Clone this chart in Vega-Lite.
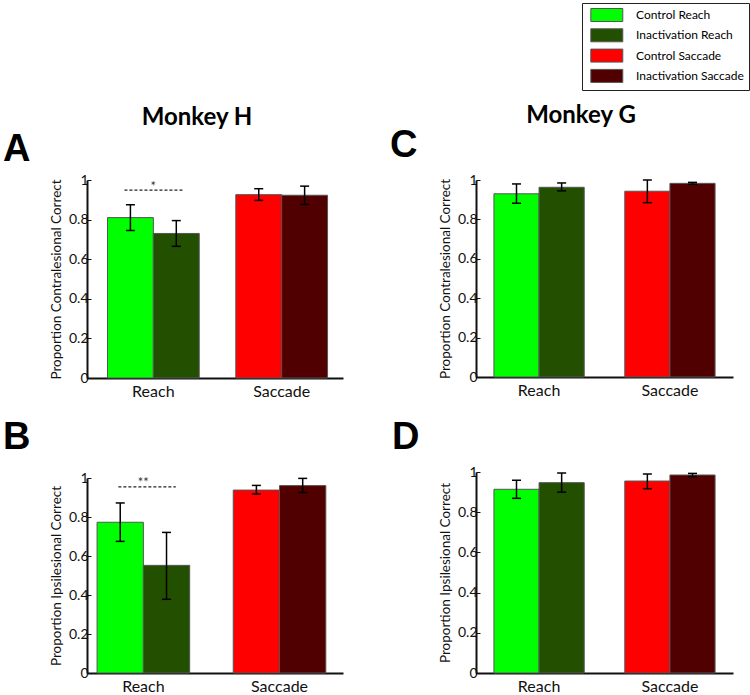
{
  "$schema": "https://vega.github.io/schema/vega-lite/v6.json",
  "padding": {"left": 3, "top": 2, "right": 0, "bottom": 0},
  "background": "white",
  "datasets": {
    "bars": [
      {"panel": "A", "group": "Reach", "treatment": "Control", "cond": "Control Reach", "value": 0.81, "lo": 0.745, "hi": 0.875},
      {"panel": "A", "group": "Reach", "treatment": "Inactivation", "cond": "Inactivation Reach", "value": 0.73, "lo": 0.665, "hi": 0.795},
      {"panel": "A", "group": "Saccade", "treatment": "Control", "cond": "Control Saccade", "value": 0.926, "lo": 0.897, "hi": 0.956},
      {"panel": "A", "group": "Saccade", "treatment": "Inactivation", "cond": "Inactivation Saccade", "value": 0.923, "lo": 0.877, "hi": 0.969},
      {"panel": "B", "group": "Reach", "treatment": "Control", "cond": "Control Reach", "value": 0.773, "lo": 0.675, "hi": 0.872},
      {"panel": "B", "group": "Reach", "treatment": "Inactivation", "cond": "Inactivation Reach", "value": 0.552, "lo": 0.378, "hi": 0.721},
      {"panel": "B", "group": "Saccade", "treatment": "Control", "cond": "Control Saccade", "value": 0.938, "lo": 0.918, "hi": 0.962},
      {"panel": "B", "group": "Saccade", "treatment": "Inactivation", "cond": "Inactivation Saccade", "value": 0.961, "lo": 0.926, "hi": 0.998},
      {"panel": "C", "group": "Reach", "treatment": "Control", "cond": "Control Reach", "value": 0.93, "lo": 0.882, "hi": 0.98},
      {"panel": "C", "group": "Reach", "treatment": "Inactivation", "cond": "Inactivation Reach", "value": 0.963, "lo": 0.945, "hi": 0.985},
      {"panel": "C", "group": "Saccade", "treatment": "Control", "cond": "Control Saccade", "value": 0.943, "lo": 0.885, "hi": 1.0},
      {"panel": "C", "group": "Saccade", "treatment": "Inactivation", "cond": "Inactivation Saccade", "value": 0.983, "lo": 0.978, "hi": 0.988},
      {"panel": "D", "group": "Reach", "treatment": "Control", "cond": "Control Reach", "value": 0.914, "lo": 0.869, "hi": 0.959},
      {"panel": "D", "group": "Reach", "treatment": "Inactivation", "cond": "Inactivation Reach", "value": 0.947, "lo": 0.9, "hi": 0.995},
      {"panel": "D", "group": "Saccade", "treatment": "Control", "cond": "Control Saccade", "value": 0.955, "lo": 0.917, "hi": 0.99},
      {"panel": "D", "group": "Saccade", "treatment": "Inactivation", "cond": "Inactivation Saccade", "value": 0.985, "lo": 0.977, "hi": 0.993}
    ],
    "sig": [
      {"panel": "A", "group": "Reach", "line": 0.949, "starY": 0.965, "star": "*"},
      {"panel": "B", "group": "Reach", "line": 0.954, "starY": 0.975, "star": "**"}
    ]
  },
  "config": {
    "font": "Lato",
    "view": {"stroke": null},
    "axisX": {"ticks": false, "labelAngle": 0, "labelFontSize": 16, "labelPadding": 5, "domainColor": "#111", "domainWidth": 2, "labelColor": "#111"},
    "axisY": {"grid": false, "labelOverlap": false, "domainColor": "#111", "domainWidth": 2, "tickColor": "#111", "tickSize": -4, "tickWidth": 1, "labelPadding": 3, "labelFontSize": 14, "labelColor": "#111", "titleFontSize": 13.5, "titleFontWeight": "normal", "titleColor": "#111", "titlePadding": 5},
    "legend": {"orient": "none", "legendX": 495, "legendY": -177, "padding": 5, "strokeColor": "#222", "fillColor": "white", "symbolType": "M-0.49,-1H4.43V1H-0.49Z", "symbolSize": 169, "symbolStrokeColor": "#555", "symbolStrokeWidth": 1, "symbolOpacity": 1, "labelFont": "Lato", "labelFontSize": 12, "labelOffset": 35, "rowPadding": 2.3, "labelColor": "black", "cornerRadius": 0}
  },
  "resolve": {"scale": {"xOffset": "independent"}},
  "spacing": 47,
  "hconcat": [
    {
      "title": {"text": "Monkey H", "font": "Lato", "fontSize": 24, "fontWeight": "bold", "anchor": "middle", "dx": 24, "offset": -18, "baseline": "alphabetic", "color": "black"},
      "spacing": 100,
      "bounds": "flush",
      "resolve": {"scale": {"xOffset": "independent"}},
      "vconcat": [
        {
          "width": 256, "height": 198,
          "title": {"text": "A", "anchor": "start", "frame": "group", "dx": -84, "offset": -26, "baseline": "alphabetic", "font": "Liberation Sans", "fontSize": 38, "fontWeight": "bold", "color": "black"},
          "layer": [
            {"data": {"name": "bars"}, "transform": [{"filter": "datum.panel === 'A'"}],
             "mark": {"type": "bar", "stroke": "#555", "strokeWidth": 1},
             "encoding": {
               "x": {"field": "group", "type": "nominal", "title": null, "scale": {"domain": ["Reach", "Saccade"], "paddingInner": 0.285, "paddingOuter": 0.14, "align": 0.57}},
               "xOffset": {"field": "treatment", "type": "nominal", "scale": {"domain": ["Control", "Inactivation"]}},
               "y": {"field": "value", "type": "quantitative", "scale": {"domain": [0, 1], "nice": false}, "axis": {"values": [0, 0.2, 0.4, 0.6, 0.8, 1], "tickCount": 6, "format": "~g", "title": "Proportion Contralesional Correct"}},
               "color": {"field": "cond", "type": "nominal", "title": null, "scale": {"domain": ["Control Reach", "Inactivation Reach", "Control Saccade", "Inactivation Saccade"], "range": ["#00ff00", "#225000", "#ff0000", "#500000"]}}
             }},
            {"data": {"name": "bars"}, "transform": [{"filter": "datum.panel === 'A'"}],
             "mark": {"type": "rule", "color": "black", "strokeWidth": 1.5},
             "encoding": {"x": {"field": "group", "type": "nominal"}, "xOffset": {"field": "treatment", "type": "nominal"}, "y": {"field": "lo", "type": "quantitative"}, "y2": {"field": "hi"}}},
            {"data": {"name": "bars"}, "transform": [{"filter": "datum.panel === 'A'"}],
             "mark": {"type": "tick", "orient": "horizontal", "size": 9, "thickness": 1.5, "color": "black", "opacity": 1},
             "encoding": {"x": {"field": "group", "type": "nominal"}, "xOffset": {"field": "treatment", "type": "nominal"}, "y": {"field": "lo", "type": "quantitative"}}},
            {"data": {"name": "bars"}, "transform": [{"filter": "datum.panel === 'A'"}],
             "mark": {"type": "tick", "orient": "horizontal", "size": 9, "thickness": 1.5, "color": "black", "opacity": 1},
             "encoding": {"x": {"field": "group", "type": "nominal"}, "xOffset": {"field": "treatment", "type": "nominal"}, "y": {"field": "hi", "type": "quantitative"}}},
            {"data": {"name": "sig"}, "transform": [{"filter": "datum.panel === 'A'"}],
             "mark": {"type": "rule", "color": "#222", "strokeWidth": 1.3, "strokeDash": [3, 2]},
             "encoding": {"x": {"field": "group", "type": "nominal", "bandPosition": 0.185}, "x2": {"field": "group", "bandPosition": 0.826}, "y": {"field": "line", "type": "quantitative"}}},
            {"data": {"name": "sig"}, "transform": [{"filter": "datum.panel === 'A'"}],
             "mark": {"type": "text", "fontSize": 13, "color": "#333", "baseline": "middle"},
             "encoding": {"x": {"field": "group", "type": "nominal"}, "y": {"field": "starY", "type": "quantitative"}, "text": {"field": "star"}}}
          ]
        },
        {
          "width": 256, "height": 195,
          "title": {"text": "B", "anchor": "start", "frame": "group", "dx": -84, "offset": -16, "baseline": "alphabetic", "font": "Liberation Sans", "fontSize": 38, "fontWeight": "bold", "color": "black"},
          "layer": [
            {"data": {"name": "bars"}, "transform": [{"filter": "datum.panel === 'B'"}],
             "mark": {"type": "bar", "stroke": "#555", "strokeWidth": 1},
             "encoding": {
               "x": {"field": "group", "type": "nominal", "title": null, "scale": {"domain": ["Reach", "Saccade"], "paddingInner": 0.32, "paddingOuter": 0.1, "align": 0.37}},
               "xOffset": {"field": "treatment", "type": "nominal", "scale": {"domain": ["Control", "Inactivation"]}},
               "y": {"field": "value", "type": "quantitative", "scale": {"domain": [0, 1], "nice": false}, "axis": {"values": [0, 0.2, 0.4, 0.6, 0.8, 1], "tickCount": 6, "format": "~g", "title": "Proportion Ipsilesional Correct"}},
               "color": {"field": "cond", "type": "nominal", "title": null}
             }},
            {"data": {"name": "bars"}, "transform": [{"filter": "datum.panel === 'B'"}],
             "mark": {"type": "rule", "color": "black", "strokeWidth": 1.5},
             "encoding": {"x": {"field": "group", "type": "nominal"}, "xOffset": {"field": "treatment", "type": "nominal"}, "y": {"field": "lo", "type": "quantitative"}, "y2": {"field": "hi"}}},
            {"data": {"name": "bars"}, "transform": [{"filter": "datum.panel === 'B'"}],
             "mark": {"type": "tick", "orient": "horizontal", "size": 9, "thickness": 1.5, "color": "black", "opacity": 1},
             "encoding": {"x": {"field": "group", "type": "nominal"}, "xOffset": {"field": "treatment", "type": "nominal"}, "y": {"field": "lo", "type": "quantitative"}}},
            {"data": {"name": "bars"}, "transform": [{"filter": "datum.panel === 'B'"}],
             "mark": {"type": "tick", "orient": "horizontal", "size": 9, "thickness": 1.5, "color": "black", "opacity": 1},
             "encoding": {"x": {"field": "group", "type": "nominal"}, "xOffset": {"field": "treatment", "type": "nominal"}, "y": {"field": "hi", "type": "quantitative"}}},
            {"data": {"name": "sig"}, "transform": [{"filter": "datum.panel === 'B'"}],
             "mark": {"type": "rule", "color": "#222", "strokeWidth": 1.3, "strokeDash": [3, 2]},
             "encoding": {"x": {"field": "group", "type": "nominal", "bandPosition": 0.23}, "x2": {"field": "group", "bandPosition": 0.85}, "y": {"field": "line", "type": "quantitative"}}},
            {"data": {"name": "sig"}, "transform": [{"filter": "datum.panel === 'B'"}],
             "mark": {"type": "text", "fontSize": 13, "color": "#333", "baseline": "middle"},
             "encoding": {"x": {"field": "group", "type": "nominal"}, "y": {"field": "starY", "type": "quantitative"}, "text": {"field": "star"}}}
          ]
        }
      ]
    },
    {
      "title": {"text": "Monkey G", "font": "Lato", "fontSize": 24, "fontWeight": "bold", "anchor": "middle", "dx": 19.5, "offset": -20, "baseline": "alphabetic", "color": "black"},
      "spacing": 95,
      "bounds": "flush",
      "resolve": {"scale": {"xOffset": "independent"}},
      "vconcat": [
        {
          "width": 257, "height": 197,
          "title": {"text": "C", "anchor": "start", "frame": "group", "dx": -86, "offset": -22, "baseline": "alphabetic", "font": "Liberation Sans", "fontSize": 38, "fontWeight": "bold", "color": "black"},
          "layer": [
            {"data": {"name": "bars"}, "transform": [{"filter": "datum.panel === 'C'"}],
             "mark": {"type": "bar", "stroke": "#555", "strokeWidth": 1},
             "encoding": {
               "x": {"field": "group", "type": "nominal", "title": null, "scale": {"domain": ["Reach", "Saccade"], "paddingInner": 0.31, "paddingOuter": 0.137, "align": 0.5}},
               "xOffset": {"field": "treatment", "type": "nominal", "scale": {"domain": ["Control", "Inactivation"]}},
               "y": {"field": "value", "type": "quantitative", "scale": {"domain": [0, 1], "nice": false}, "axis": {"values": [0, 0.2, 0.4, 0.6, 0.8, 1], "tickCount": 6, "format": "~g", "title": "Proportion Contralesional Correct"}},
               "color": {"field": "cond", "type": "nominal", "title": null}
             }},
            {"data": {"name": "bars"}, "transform": [{"filter": "datum.panel === 'C'"}],
             "mark": {"type": "rule", "color": "black", "strokeWidth": 1.5},
             "encoding": {"x": {"field": "group", "type": "nominal"}, "xOffset": {"field": "treatment", "type": "nominal"}, "y": {"field": "lo", "type": "quantitative"}, "y2": {"field": "hi"}}},
            {"data": {"name": "bars"}, "transform": [{"filter": "datum.panel === 'C'"}],
             "mark": {"type": "tick", "orient": "horizontal", "size": 9, "thickness": 1.5, "color": "black", "opacity": 1},
             "encoding": {"x": {"field": "group", "type": "nominal"}, "xOffset": {"field": "treatment", "type": "nominal"}, "y": {"field": "lo", "type": "quantitative"}}},
            {"data": {"name": "bars"}, "transform": [{"filter": "datum.panel === 'C'"}],
             "mark": {"type": "tick", "orient": "horizontal", "size": 9, "thickness": 1.5, "color": "black", "opacity": 1},
             "encoding": {"x": {"field": "group", "type": "nominal"}, "xOffset": {"field": "treatment", "type": "nominal"}, "y": {"field": "hi", "type": "quantitative"}}}
          ]
        },
        {
          "width": 257, "height": 201,
          "title": {"text": "D", "anchor": "start", "frame": "group", "dx": -84, "offset": -22, "baseline": "alphabetic", "font": "Liberation Sans", "fontSize": 38, "fontWeight": "bold", "color": "black"},
          "layer": [
            {"data": {"name": "bars"}, "transform": [{"filter": "datum.panel === 'D'"}],
             "mark": {"type": "bar", "stroke": "#555", "strokeWidth": 1},
             "encoding": {
               "x": {"field": "group", "type": "nominal", "title": null, "scale": {"domain": ["Reach", "Saccade"], "paddingInner": 0.31, "paddingOuter": 0.137, "align": 0.5}},
               "xOffset": {"field": "treatment", "type": "nominal", "scale": {"domain": ["Control", "Inactivation"]}},
               "y": {"field": "value", "type": "quantitative", "scale": {"domain": [0, 1], "nice": false}, "axis": {"values": [0, 0.2, 0.4, 0.6, 0.8, 1], "tickCount": 6, "format": "~g", "title": "Proportion Ipsilesional Correct"}},
               "color": {"field": "cond", "type": "nominal", "title": null}
             }},
            {"data": {"name": "bars"}, "transform": [{"filter": "datum.panel === 'D'"}],
             "mark": {"type": "rule", "color": "black", "strokeWidth": 1.5},
             "encoding": {"x": {"field": "group", "type": "nominal"}, "xOffset": {"field": "treatment", "type": "nominal"}, "y": {"field": "lo", "type": "quantitative"}, "y2": {"field": "hi"}}},
            {"data": {"name": "bars"}, "transform": [{"filter": "datum.panel === 'D'"}],
             "mark": {"type": "tick", "orient": "horizontal", "size": 9, "thickness": 1.5, "color": "black", "opacity": 1},
             "encoding": {"x": {"field": "group", "type": "nominal"}, "xOffset": {"field": "treatment", "type": "nominal"}, "y": {"field": "lo", "type": "quantitative"}}},
            {"data": {"name": "bars"}, "transform": [{"filter": "datum.panel === 'D'"}],
             "mark": {"type": "tick", "orient": "horizontal", "size": 9, "thickness": 1.5, "color": "black", "opacity": 1},
             "encoding": {"x": {"field": "group", "type": "nominal"}, "xOffset": {"field": "treatment", "type": "nominal"}, "y": {"field": "hi", "type": "quantitative"}}}
          ]
        }
      ]
    }
  ]
}
